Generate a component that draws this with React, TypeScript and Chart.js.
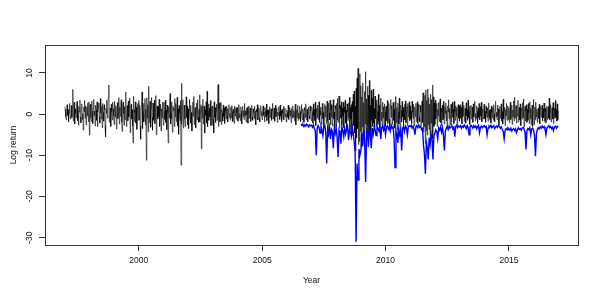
import React, { useEffect, useRef } from "react";
import { Chart, registerables } from "chart.js";

Chart.register(...registerables);

const X_TICKS = [2000, 2005, 2010, 2015];
const Y_TICKS = [-30, -20, -10, 0, 10];
const X_LABEL = "Year";
const Y_LABEL = "Log return";
const RET_PER_YEAR = 52;
const VAR_PER_YEAR = 26;

// Weekly log returns (52 readings per year)
const RET_1997 = [1.8, 1.2, -0.6, -1.4, 0.9, 2.3, -0.3, 1.1, -1.9, 0.4, 2.6, 1.0, -1.2,
  0.6, 2.1, -0.8, 1.5, 6.0, -1.7, 0.3, 2.9, -2.4, 1.3, 0.2, -0.9, 2.2,
  3.1, -1.6, 0.8, -2.7, 1.9, 0.5, 3.4, -0.7, -2.1, 1.4, 2.5, -1.3, 0.1,
  -3.9, 1.7, 0.6, 3.3, -1.0, 2.0, -2.6, 0.9, 1.8, -0.5, 2.7, -1.8, 3.0];
const RET_1998 = [-5.1, 1.6, 2.4, -0.9, -1.8, 3.2, 0.7, -2.3, 1.2, 3.6, -0.4, 0.8, -2.9,
  2.2, 1.0, -1.5, 3.0, -3.1, 0.5, 1.8, 2.7, -0.6, -2.2, 3.8, 0.3, -1.2,
  1.9, -3.3, 2.6, 0.4, -1.7, 2.3, 1.1, -2.8, -5.5, 1.4, 0.2, 3.4, -1.0,
  2.8, 4.1, 7.1, -2.0, -0.7, 1.5, -3.0, 2.4, 0.6, -1.4, 2.9, 1.3, -0.5];
const RET_1999 = [-2.5, 3.1, 0.9, -0.8, 2.0, -3.6, 1.4, 2.8, -1.1, 0.3, 4.0, -2.4, 1.6,
  -0.5, 2.2, 3.5, -1.9, -4.2, 1.2, 2.9, 0.1, -2.7, 1.8, -1.3, 2.5, 5.4,
  -3.0, 0.8, 2.1, -1.6, 3.2, -0.7, 1.5, 3.9, -4.5, 0.6, 2.4, -1.2, 1.1,
  -2.9, -7.0, 4.3, 1.0, -1.8, 0.4, 3.0, -2.2, 1.7, -3.7, 0.9, 2.6, -1.5];
const RET_2000 = [3.3, -1.4, 2.2, -2.8, -6.1, 1.5, 3.0, 5.4, -3.5, 0.7, 2.6, -1.9, -0.4,
  3.8, -2.6, 1.2, -11.2, 4.0, -1.0, 2.3, -4.3, 6.8, -2.1, 0.5, 3.1, -3.2,
  1.6, 4.0, -0.8, -3.9, 2.7, 0.9, -1.5, 3.4, -2.3, 1.1, 4.5, -5.0, 0.3,
  2.0, -1.2, 1.8, -0.6, 3.6, -3.0, 0.8, 2.4, -4.1, 1.3, -0.9, 2.9, 0.4];
const RET_2001 = [-2.7, 2.9, 0.6, -1.3, 3.4, -2.0, 1.0, -3.8, 2.2, 0.4, -7.0, 1.8, -0.9,
  2.5, 5.0, -2.4, 0.2, 3.0, -1.1, -4.4, 2.0, 0.9, 1.5, -3.0, 3.8, -0.6,
  2.6, -1.8, 0.7, 4.1, -2.9, 1.3, -4.9, 2.1, 0.3, -1.6, 3.3, -12.4, 7.5,
  -2.5, 1.6, 3.5, -3.4, 0.5, 2.2, -1.2, -3.0, 1.4, 4.2, -0.8, 2.0, -2.6];
const RET_2002 = [1.3, -3.5, 0.8, 3.6, -1.0, 2.1, -2.2, 0.4, -4.1, 1.7, 2.9, -0.5, 4.3,
  -2.6, 0.9, 1.6, -3.3, 0.2, 2.7, -1.4, 3.5, -0.8, -2.0, 1.2, 4.7, -1.9,
  0.6, 2.3, -8.4, 1.9, -1.0, 3.6, -2.4, 0.7, 2.0, -4.6, 1.1, -0.3, 3.0,
  -2.1, 5.6, -3.1, 0.8, 2.5, -1.5, 1.4, -0.6, 3.3, -2.8, 0.5, 1.9, -2.7];
const RET_2003 = [2.0, -1.1, -4.6, 3.0, -0.8, 1.6, -2.0, 0.6, 2.4, -1.5, 1.0, 7.2, -3.0,
  1.3, 2.7, -1.9, 0.5, 2.9, -2.5, 1.1, 0.3, -1.7, 2.2, -0.6, 1.5, -2.3,
  1.8, 0.7, -1.2, 2.0, -0.4, 1.4, -1.9, 0.9, 2.3, -0.8, 0.2, -1.5, 1.7,
  -0.9, 2.1, 0.6, -1.8, 1.2, 0.3, -2.2, 1.9, -0.5, 0.8, 1.6, -1.3, 0.4];
const RET_2004 = [1.6, -1.7, 0.5, 2.3, -0.9, 0.2, -1.6, 1.8, 0.7, -2.4, 1.1, 1.9, -0.6,
  0.9, -1.3, 2.6, -0.4, 0.8, -1.9, 1.4, -0.2, 1.7, -2.2, 0.6, 2.0, -1.0,
  0.3, 1.5, -1.8, 0.9, 2.2, -0.7, -1.5, 1.3, 0.4, -1.1, 1.9, -0.3, 0.8,
  -2.6, 1.2, 0.5, 2.3, -1.4, 0.1, 1.6, -0.8, -1.9, 1.0, 2.1, -0.5, 0.7];
const RET_2005 = [-1.4, 0.6, 2.0, -0.3, 0.5, -1.9, 1.6, 0.8, -0.7, 2.4, -1.6, 0.9, -0.2,
  1.1, -2.3, 0.4, 1.8, -0.9, 0.3, 1.3, -1.5, 0.7, 2.6, -0.8, -1.2, 1.5,
  0.2, -1.7, 2.1, -0.6, 0.9, 1.4, -2.0, 0.5, -0.4, 1.8, 0.6, -1.3, 2.2,
  -0.5, 0.8, -1.8, 1.2, 0.3, -0.9, 2.0, -1.4, 0.6, 1.5, -0.7, 0.1, -1.9];
const RET_2006 = [1.0, 0.4, -0.8, 2.2, -1.3, 0.6, 1.7, -0.5, 0.9, -2.1, 1.4, 0.2, -1.0,
  2.0, -0.7, 0.8, -1.6, 1.2, 2.4, -2.6, 0.5, 1.1, -0.9, 2.1, -1.5, 0.3,
  -1.1, 1.9, 0.7, -1.8, 0.4, 2.3, -0.6, -1.5, 1.3, 0.2, -2.0, 1.6, 0.9,
  -0.8, 2.5, -1.4, 0.6, 1.2, -1.9, 0.3, 1.7, -0.5, -1.2, 2.0, 0.8, -1.6];
const RET_2007 = [-1.0, 1.8, 0.6, -2.2, 2.5, -0.4, 1.1, -1.6, 2.9, -2.8, 0.7, 1.4, -0.9,
  2.2, -1.3, 0.5, 3.0, -2.0, 0.9, -0.3, 1.7, -2.5, 1.2, 2.6, -1.1, 0.4,
  -3.1, 1.5, 2.4, -0.7, 1.9, -2.3, 0.8, 3.2, -1.8, -4.0, 2.7, 0.3, -1.4,
  3.4, -2.6, 1.0, 2.3, -0.8, -2.9, 1.6, 3.5, -1.2, 0.5, -3.4, 2.1, 1.3];
const RET_2008 = [-3.0, 2.6, -1.4, 3.8, -2.0, 0.9, 4.4, -3.5, 1.2, 2.1, -1.0, 3.0, -2.7,
  1.5, -0.6, 2.9, -3.3, 1.8, 0.4, 3.4, -2.2, 1.0, -3.8, 2.5, 0.6, -1.5,
  2.7, -0.8, 4.1, -3.9, 1.6, -1.2, 2.3, -5.2, 3.1, 0.5, 4.8, -2.8, 5.6,
  -4.6, 2.0, -9.0, 6.3, -5.8, 8.7, -3.5, 11.1, -7.4, 5.1, -6.6, 9.8, -4.2];
const RET_2009 = [6.9, -8.0, 4.2, -3.1, 7.6, -5.4, 2.8, -6.9, 5.5, -2.4, 10.3, -4.8, 3.7,
  -6.2, 6.8, -2.9, 4.6, -5.0, 8.2, -3.6, 2.1, -4.7, 5.8, -1.5, 3.9, -3.0,
  6.1, -2.2, 1.4, -3.6, 4.4, -1.1, 2.6, -2.9, 3.5, 0.7, -2.5, 4.8, -1.8,
  2.2, -3.4, 1.0, 3.9, -1.6, 0.5, -2.8, 2.9, -0.9, 1.8, -3.2, 2.5, 0.6];
const RET_2010 = [-3.0, 1.9, 0.7, -1.6, 3.3, -2.3, 0.9, 2.6, -1.2, -2.9, 1.5, 3.6, -0.8,
  2.1, -2.6, 0.4, 2.8, -1.5, 1.2, -3.4, 3.0, -5.6, 4.3, -2.0, 1.6, -3.8,
  2.7, 0.5, -2.4, 3.9, -1.1, -4.3, 2.2, 0.8, -1.9, 3.1, -0.6, 1.7, -2.7,
  0.9, 2.4, -1.4, 3.2, -2.1, 0.3, 1.8, -2.8, 2.6, -0.7, 1.3, 3.0, -1.6];
const RET_2011 = [2.0, -1.2, 0.8, -2.3, 3.1, 0.5, -1.0, 2.4, -2.9, 0.9, 1.7, -0.6, 2.6,
  -1.8, 0.4, 3.0, -2.2, 1.3, 2.5, -0.8, -1.9, 2.2, 0.6, -2.7, 1.5, 3.2,
  -2.0, 5.2, -4.4, 2.8, -3.1, 4.6, -7.2, 5.9, -4.0, 3.3, -5.1, 6.1, -2.6,
  4.0, -3.7, 2.4, -5.5, 4.8, -2.2, 3.5, -4.6, 7.1, -6.0, 4.2, -3.0, 2.7];
const RET_2012 = [-2.5, 3.4, -1.2, 0.8, 2.6, -3.0, 1.1, -0.5, 2.9, -1.8, 0.4, 3.7, -2.1,
  1.5, -2.9, 0.6, 2.2, -1.4, 3.1, -0.9, -2.4, 1.8, 0.2, 2.7, -1.6, 0.9,
  -3.2, 2.0, 0.5, 3.5, -1.1, 1.4, -2.6, 0.7, 2.4, -1.9, 0.3, 2.9, -0.8,
  1.2, -2.3, 3.1, 0.4, -1.5, 2.0, -0.6, 1.6, -2.7, 0.8, 2.3, -1.0, 1.9];
const RET_2013 = [-1.7, 2.3, 0.5, -1.0, 1.6, -2.4, 3.0, -0.6, 0.9, 2.1, -1.8, 0.3, 1.4,
  -2.2, 2.8, -0.4, 1.1, -1.5, 3.4, -0.9, 0.6, 1.9, -2.5, 0.8, 2.2, -1.2,
  0.4, 1.7, -2.0, 2.5, -0.7, 1.2, 3.1, -1.6, 0.2, -1.1, 2.0, 0.7, -2.3,
  1.5, -0.8, 2.6, 0.3, -1.4, 1.8, -0.5, 2.9, -1.9, 0.6, 1.3, -1.2, 2.1];
const RET_2014 = [2.4, -1.1, 0.7, -2.0, 1.9, 0.3, -0.8, 1.5, -1.7, 2.7, -0.6, 0.9, -1.3,
  1.2, -2.2, 2.0, 0.4, -0.9, 1.6, -1.5, 2.3, 0.1, -1.9, 1.0, 3.1, -0.7,
  0.5, -1.4, 2.2, -0.5, 1.3, -2.6, 0.8, 1.9, -1.0, 0.2, 2.5, -1.7, 0.6,
  -2.4, 3.6, -1.2, 0.9, 1.7, -2.8, 1.1, -0.4, 2.6, -1.5, 0.3, 2.0, -1.3];
const RET_2015 = [1.6, -2.0, 0.9, 2.9, -1.3, 0.5, 2.2, -2.5, 1.0, -0.7, 3.2, -1.6, 4.1,
  -1.0, 0.8, 2.1, -2.2, 1.4, -0.5, 3.4, -1.9, 0.6, 1.7, -1.4, 2.5, -2.8,
  0.9, 1.5, -1.2, 2.8, -0.8, 3.7, -3.1, 0.4, 1.9, -1.7, 0.7, 2.3, -2.0,
  1.2, -1.5, 2.6, 0.3, -2.3, 3.0, -1.1, 1.4, -2.6, 0.8, 2.2, -3.0, 1.5];
const RET_2016 = [3.6, -2.6, 0.8, 1.7, -1.5, 2.9, -0.7, 1.2, -2.0, 0.5, 1.5, -1.1, 2.4,
  -2.4, 1.0, 1.9, -0.8, 0.3, 2.2, -1.6, 1.3, -0.9, 2.7, -1.8, 0.6, 1.4,
  -2.1, 0.9, 2.0, -1.3, 0.4, 1.8, -1.0, 3.9, -1.4, 0.7, 2.3, -1.9, 0.5,
  1.6, -1.2, 2.8, -2.3, 0.9, 1.4, -1.0, 3.3, -0.6, 1.1, -1.7, 2.5, -1.5];
const RET_2017 = [0.8];

// Value-at-risk (blue), 26 readings per year, starts in the second half of 2006
const VAR_2006 = [-2.4, -2.8, -2.5, -3.0, -2.6, -2.9, -2.4, -2.7, -3.1, -2.6, -2.8];
const VAR_2007 = [-2.7, -3.2, -2.6, -3.5, -4.1, -10.0, -3.4, -2.8, -3.3, -4.6, -2.9, -3.8, -5.2, -3.0, -2.7, -4.4, -12.0, -3.6, -4.9, -3.2, -6.0, -3.7, -4.2, -8.3, -3.5, -4.7];
const VAR_2008 = [-3.3, -5.8, -10.4, -3.9, -4.5, -7.2, -3.1, -4.0, -5.5, -3.4, -4.8, -3.6, -2.9, -6.3, -3.8, -4.2, -5.4, -3.2, -4.6, -6.8, -9.5, -31.0, -12.0, -16.0, -8.5, -10.0];
const VAR_2009 = [-9.0, -4.5, -7.8, -3.9, -6.2, -16.5, -5.1, -4.0, -8.0, -3.6, -4.7, -8.3, -3.4, -4.9, -3.2, -3.8, -5.2, -2.9, -3.5, -4.1, -3.0, -6.0, -3.3, -2.8, -3.9, -3.1];
const VAR_2010 = [-5.0, -3.2, -2.8, -3.6, -3.0, -4.1, -2.7, -3.4, -3.1, -5.8, -13.0, -6.2, -4.4, -7.0, -3.7, -5.1, -4.0, -8.8, -3.5, -3.0, -4.2, -2.9, -3.3, -5.0, -3.1, -2.8];
const VAR_2011 = [-3.0, -2.7, -3.4, -2.9, -3.6, -5.0, -3.1, -2.8, -3.3, -2.6, -3.2, -2.9, -3.8, -3.5, -7.5, -9.8, -14.5, -6.9, -8.2, -11.0, -5.7, -7.4, -4.8, -6.3, -11.0, -5.2];
const VAR_2012 = [-4.6, -3.8, -4.3, -6.0, -3.4, -3.9, -3.1, -4.4, -3.3, -5.1, -8.8, -4.2, -3.5, -3.0, -3.7, -2.9, -3.4, -3.1, -2.8, -3.6, -3.2, -5.5, -3.0, -2.7, -3.3, -2.9];
const VAR_2013 = [-3.1, -2.8, -3.4, -2.9, -3.2, -2.6, -3.0, -3.5, -2.8, -3.3, -5.0, -3.1, -2.7, -3.0, -3.4, -2.8, -3.2, -2.9, -3.6, -3.0, -2.7, -4.5, -3.2, -2.9, -3.3, -3.0];
const VAR_2014 = [-2.8, -3.2, -3.0, -5.0, -3.4, -2.9, -3.1, -2.7, -3.3, -3.0, -2.8, -3.5, -3.1, -2.9, -3.2, -2.7, -3.0, -3.4, -3.1, -3.8, -4.2, -6.0, -3.9, -3.5, -3.8, -3.3];
const VAR_2015 = [-3.6, -3.9, -3.4, -4.1, -3.7, -3.5, -4.0, -3.6, -4.5, -3.8, -3.3, -3.7, -3.5, -3.9, -3.4, -3.2, -3.6, -4.4, -8.6, -4.0, -3.5, -3.8, -3.3, -5.0, -3.6, -3.4];
const VAR_2016 = [-3.9, -5.2, -10.2, -4.8, -3.7, -3.3, -3.6, -3.1, -3.4, -2.9, -3.3, -3.0, -3.6, -5.0, -3.4, -3.1, -2.8, -3.3, -3.0, -3.5, -3.2, -4.0, -3.1, -2.9, -3.4, -3.0];
const VAR_2017 = [-3.2];

const RETURN_YEARS: [number, number[]][] = [
  [1997, RET_1997], [1998, RET_1998], [1999, RET_1999], [2000, RET_2000],
  [2001, RET_2001], [2002, RET_2002], [2003, RET_2003], [2004, RET_2004],
  [2005, RET_2005], [2006, RET_2006], [2007, RET_2007], [2008, RET_2008],
  [2009, RET_2009], [2010, RET_2010], [2011, RET_2011], [2012, RET_2012],
  [2013, RET_2013], [2014, RET_2014], [2015, RET_2015], [2016, RET_2016],
  [2017, RET_2017],
];
const VAR_YEARS: [number, number[]][] = [
  [2006, VAR_2006], [2007, VAR_2007], [2008, VAR_2008], [2009, VAR_2009],
  [2010, VAR_2010], [2011, VAR_2011], [2012, VAR_2012], [2013, VAR_2013],
  [2014, VAR_2014], [2015, VAR_2015], [2016, VAR_2016], [2017, VAR_2017],
];

function toPoints(years: [number, number[]][], freq: number) {
  const pts: { x: number; y: number }[] = [];
  years.forEach(([yr, arr], k) => {
    // the first year of a series may start part-way through the year
    const offset = k === 0 && arr.length < freq ? freq - arr.length : 0;
    arr.forEach((v, j) => pts.push({ x: yr + (offset + j) / freq, y: v }));
  });
  return pts;
}

const FONT = "'Liberation Sans', Arial, Helvetica, sans-serif";

const boxPlugin = {
  id: "rbox",
  afterDatasetsDraw(chart: any) {
    const { ctx, chartArea: a } = chart;
    ctx.save();
    ctx.strokeStyle = "#333";
    ctx.lineWidth = 1;
    const l = Math.floor(a.left) + 0.5;
    const t = Math.floor(a.top) + 0.5;
    const r = Math.floor(a.right) + 0.5;
    const b = Math.floor(a.bottom) + 0.5;
    ctx.strokeRect(l, t, r - l, b - t);
    ctx.restore();
  },
};

export default function App() {
  const ref = useRef<HTMLCanvasElement | null>(null);
  useEffect(() => {
    if (!ref.current) return;
    const chart = new Chart(ref.current, {
      type: "line",
      data: {
        datasets: [
          {
            label: "Log return",
            data: toPoints(RETURN_YEARS, RET_PER_YEAR),
            borderColor: "#000000",
            borderWidth: 0.6,
            pointRadius: 0,
            tension: 0,
            order: 2,
          },
          {
            label: "VaR",
            data: toPoints(VAR_YEARS, VAR_PER_YEAR),
            borderColor: "#0000ff",
            borderWidth: 1.4,
            pointRadius: 0,
            tension: 0,
            order: 1,
          },
        ],
      },
      options: {
        responsive: false,
        animation: false,
        events: [],
        layout: { padding: { top: 45, right: 24, left: 0, bottom: 0 } },
        plugins: {
          legend: { display: false },
          tooltip: { enabled: false },
        },
        scales: {
          x: {
            type: "linear",
            min: 1996.2,
            max: 2017.8,
            afterBuildTicks: (s: any) => {
              s.ticks = X_TICKS.map((value) => ({ value }));
            },
            afterFit: (s: any) => {
              s.height = 56;
            },
            grid: { drawOnChartArea: false, drawTicks: true, tickLength: 6, color: "#333", lineWidth: 1 },
            border: { display: false },
            ticks: {
              autoSkip: false,
              maxRotation: 0,
              minRotation: 0,
              padding: 5,
              color: "#111",
              font: { family: FONT, size: 8.5 },
              callback: (v: any) => String(v),
            },
            title: {
              display: true,
              text: X_LABEL,
              color: "#111",
              font: { family: FONT, size: 8.5 },
              padding: { top: 0, bottom: 15 },
            },
          },
          y: {
            type: "linear",
            min: -31.8,
            max: 16.8,
            afterBuildTicks: (s: any) => {
              s.ticks = Y_TICKS.map((value) => ({ value }));
            },
            afterFit: (s: any) => {
              s.width = 45;
            },
            grid: { drawOnChartArea: false, drawTicks: true, tickLength: 6, color: "#333", lineWidth: 1 },
            border: { display: false },
            ticks: {
              autoSkip: false,
              minRotation: 90,
              maxRotation: 90,
              crossAlign: "center",
              padding: 3,
              color: "#111",
              font: { family: FONT, size: 8.5 },
              callback: (v: any) => String(v),
            },
            title: {
              display: true,
              text: Y_LABEL,
              color: "#111",
              font: { family: FONT, size: 8.5 },
              padding: { top: 9, bottom: 0 },
            },
          },
        },
      },
      plugins: [boxPlugin],
    });
    return () => chart.destroy();
  }, []);

  return (
    <div style={{ position: "absolute", left: 0, top: 0, width: 602, height: 301, background: "#fff" }}>
      <canvas ref={ref} width={602} height={301} style={{ display: "block" }} />
    </div>
  );
}
